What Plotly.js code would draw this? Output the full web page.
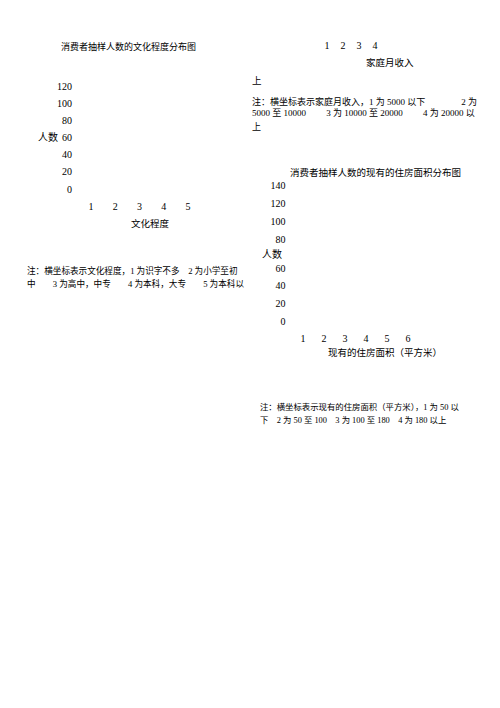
<!DOCTYPE html>
<html><head><meta charset="utf-8">
<script src="https://cdn.plot.ly/plotly-3.0.1.min.js"></script>
<style>html,body{margin:0;padding:0;background:#fff;}#c{width:500px;height:708px;}</style>
</head><body><div id="c"></div>
<script>
// ---- data (categories / tick labels; no bars are visible) ----
const eduLevels = ['1','2','3','4','5'];
const eduCounts = [null,null,null,null,null];
const eduYTicks = [0,20,40,60,80,100,120];

const incomeLevels = ['1','2','3','4'];
const incomeCounts = [null,null,null,null];

const houseLevels = ['1','2','3','4','5','6'];
const houseCounts = [null,null,null,null,null,null];
const houseYTicksLow = [0,20,40,60];
const houseYTicksHigh = [80,100,120,140];

const title1 = '消费者抽样人数的文化程度分布图';
const xTitle1 = '文化程度';
const note1 = ['注：横坐标表示文化程度，1 为识字不多　2 为小学至初', '中　　3 为高中，中专　　4 为本科，大专　　5 为本科以'];
const xTitle2 = '家庭月收入';
const note2Head = '上';
const note2 = ['注：横坐标表示家庭月收入，1 为 5000 以下　　　　2 为', '5000 至 10000　　 3 为 10000 至 20000　　 4 为 20000 以', '上'];
const title3 = '消费者抽样人数的现有的住房面积分布图';
const xTitle3 = '现有的住房面积（平方米）';
const note3 = ['注：横坐标表示现有的住房面积（平方米），1 为 50 以', '下　2 为 50 至 100　3 为 100 至 180　4 为 180 以上'];
const yTitle = '人数';

// ---- layout helpers ----
const W = 500, H = 708;
const fx = p => p / W;
const fy = p => 1 - p / H;
const FONT = 'Liberation Serif, Noto Sans CJK SC, serif';
const TL = 8;

function xAx(cats, x0, x1, anchor){
  return {domain:[fx(x0),fx(x1)], anchor:anchor, type:'category', categoryorder:'array', categoryarray:cats,
    range:[-0.5, cats.length-0.5], showgrid:false, zeroline:false, showline:false,
    ticks:'outside', ticklen:TL, tickcolor:'rgba(0,0,0,0)', tickfont:{family:FONT,size:10,color:'#000'}, fixedrange:true};
}
function yAx(range, ticks, ytop, ybot, anchor, show){
  return {domain:[fy(ybot),fy(ytop)], anchor:anchor, range:range, tickvals:ticks, showgrid:false, zeroline:false, showline:false,
    showticklabels:show!==false, ticks:'outside', ticklen:4, tickcolor:'rgba(0,0,0,0)',
    tickfont:{family:FONT,size:10,color:'#000'}, fixedrange:true};
}
function ann(text, x, y, size, anchor){
  return {text:text, x:fx(x), y:fy(y), xref:'paper', yref:'paper',
    xanchor:anchor||'center', yanchor:'middle', showarrow:false, font:{family:FONT,size:size,color:'#000'}};
}

const data = [
  {type:'bar', x:eduLevels, y:eduCounts, xaxis:'x', yaxis:'y', marker:{color:'#000'}, hoverinfo:'skip'},
  {type:'bar', x:incomeLevels, y:incomeCounts, xaxis:'x2', yaxis:'y2', marker:{color:'#000'}, hoverinfo:'skip'},
  {type:'bar', x:houseLevels, y:houseCounts, xaxis:'x3', yaxis:'y3', marker:{color:'#000'}, hoverinfo:'skip'},
  {type:'bar', x:houseLevels, y:houseCounts, xaxis:'x3', yaxis:'y4', marker:{color:'#000'}, hoverinfo:'skip'}
];

const annotations = [
  ann(title1, 128, 46, 9),
  ann(yTitle, 48, 137, 10),
  ann(xTitle1, 150, 223, 9.5),
  ann(note1[0], 25, 270, 8.6, 'left'),
  ann(note1[1], 25, 283, 8.6, 'left'),
  ann(xTitle2, 390, 62, 9.5),
  ann(note2Head, 250, 81, 9.5, 'left'),
  ann(note2[0], 250, 101, 9, 'left'),
  ann(note2[1], 250, 113, 9, 'left'),
  ann(note2[2], 250, 127, 9, 'left'),
  ann(title3, 375, 172, 9.5),
  ann(yTitle, 272, 254, 10),
  ann(xTitle3, 385, 353, 9.5),
  ann(note3[0], 258, 407, 8.4, 'left'),
  ann(note3[1], 258, 420, 8.4, 'left')
];

const layout = {
  width:W, height:H, margin:{l:0,r:0,t:0,b:0,pad:0}, paper_bgcolor:'#fff', plot_bgcolor:'rgba(0,0,0,0)',
  showlegend:false, font:{family:FONT,size:10,color:'#000'},
  xaxis: xAx(eduLevels, 79, 200, 'y'),
  yaxis: yAx([0,120], eduYTicks, 86, 189, 'x'),
  xaxis2: xAx(incomeLevels, 319, 383, 'y2'),
  yaxis2: yAx([0,1], [], 14, 28, 'x2', false),
  xaxis3: xAx(houseLevels, 292.5, 418.5, 'y3'),
  yaxis3: yAx([0,60], houseYTicksLow, 268, 321, 'x3'),
  yaxis4: yAx([80,140], houseYTicksHigh, 185, 239, 'x3'),
  annotations: annotations
};

Plotly.newPlot('c', data, layout, {staticPlot:true, displayModeBar:false});
</script></body></html>
